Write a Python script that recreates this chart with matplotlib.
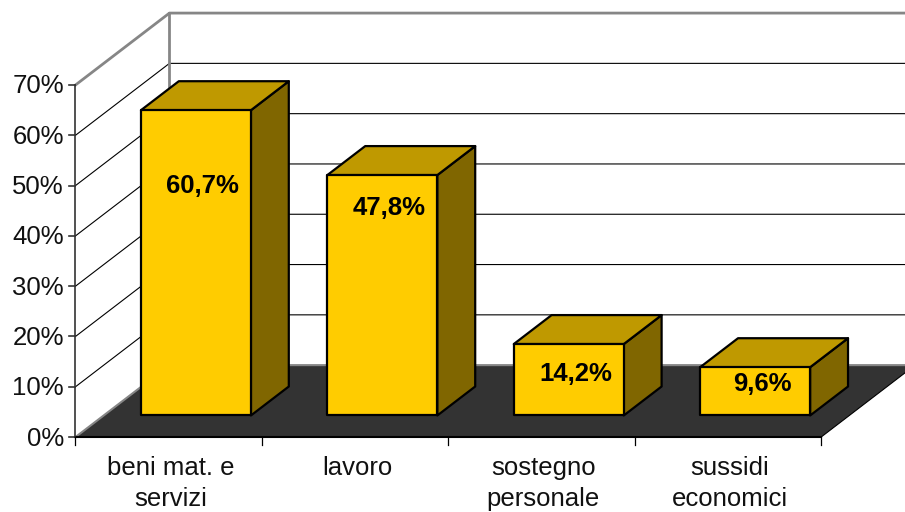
import matplotlib
matplotlib.use("Agg")
import matplotlib.pyplot as plt
from matplotlib.patches import Polygon

plt.rcParams['font.family'] = ['Liberation Sans', 'DejaVu Sans']

categories = ["beni mat. e\nservizi", "lavoro", "sostegno\npersonale", "sussidi\neconomici"]
values = [60.7, 47.8, 14.2, 9.6]
value_labels = ["60,7%", "47,8%", "14,2%", "9,6%"]
y_ticks = [0, 10, 20, 30, 40, 50, 60, 70]

# label height inside each bar, in percent units
label_heights = [50.5, 46.1, 13.0, 11.0]

# oblique projection: one unit of depth moves this far in x (categories) and y (percent)
DEPTH_X = 0.504
DEPTH_Y = 14.3
BAR_WIDTH = 0.59
BAR_FRONT = 0.30
BAR_BACK = 0.703

FLOOR = "#333333"
WALL_EDGE = "#868686"
FRONT = "#FFCC00"
TOP = "#BF9900"
SIDE = "#806600"


def project(x, value, depth):
    return x + depth * DEPTH_X, value + depth * DEPTH_Y


def draw_bar(ax, center, value):
    left = center - BAR_WIDTH / 2
    right = center + BAR_WIDTH / 2
    front = [project(left, 0, BAR_FRONT), project(right, 0, BAR_FRONT),
             project(right, value, BAR_FRONT), project(left, value, BAR_FRONT)]
    side = [project(right, 0, BAR_FRONT), project(right, 0, BAR_BACK),
            project(right, value, BAR_BACK), project(right, value, BAR_FRONT)]
    top = [project(left, value, BAR_FRONT), project(right, value, BAR_FRONT),
           project(right, value, BAR_BACK), project(left, value, BAR_BACK)]
    for pts, color in [(side, SIDE), (top, TOP), (front, FRONT)]:
        ax.add_patch(Polygon(pts, closed=True, facecolor=color, edgecolor="black",
                             linewidth=1.6, joinstyle="round", zorder=5))


fig = plt.figure(figsize=(9.05, 5.12), dpi=100)
ax = fig.add_axes([0, 0, 1, 1])
ax.set_xlim(-0.405, 4.45)
ax.set_ylim(-14.9, 86.9)
ax.axis("off")

n = len(categories)
y_max = y_ticks[-1]

# floor
floor = [project(0, 0, 0), project(n, 0, 0), project(n, 0, 1), project(0, 0, 1)]
ax.add_patch(Polygon(floor, closed=True, facecolor=FLOOR, edgecolor="none", zorder=1))
ax.plot(*zip(project(0, 0, 0), project(0, 0, 1), project(n, 0, 1)),
        color=WALL_EDGE, lw=1.5, zorder=1.5)

# gridlines on left and back wall
for t in y_ticks[1:-1]:
    ax.plot(*zip(project(0, t, 0), project(0, t, 1), project(n, t, 1)),
            color="black", lw=0.8, zorder=2)

# wall edges
ax.plot(*zip(project(0, y_max, 0), project(0, y_max, 1), project(n, y_max, 1)),
        color=WALL_EDGE, lw=2, zorder=3)
ax.plot(*zip(project(0, 0, 1), project(0, y_max, 1)), color=WALL_EDGE, lw=2, zorder=3)

# front axes and ticks
ax.plot([0, 0], [0, y_max], color="#333333", lw=1.2, zorder=4)
ax.plot([0, n], [0, 0], color="black", lw=1.5, zorder=4)
ax.plot(*zip(project(n, 0, 0), project(n, 0, 1)), color="black", lw=0.8, zorder=4)
for t in y_ticks:
    ax.plot([-0.035, 0], [t, t], color="#333333", lw=1.2, zorder=4)
    ax.text(-0.062, t + 0.2, f"{t}%", ha="right", va="center_baseline", fontsize=18.5, color="#111111")
for i in range(n + 1):
    ax.plot([i, i], [0, -1.5], color="black", lw=0.9, zorder=4)

for i in range(n):
    draw_bar(ax, i + 0.495, values[i])
    ax.text(i + 0.532 + BAR_FRONT * DEPTH_X, label_heights[i], value_labels[i], ha="center",
            va="center_baseline", fontsize=18.5, fontweight="bold", color="black", zorder=6)
    ax.text(i + 0.51, -3.8, categories[i], ha="center", va="top", fontsize=18.5,
            linespacing=1.37, color="#111111")

fig.savefig("out.png", dpi=100)
plt.close(fig)
